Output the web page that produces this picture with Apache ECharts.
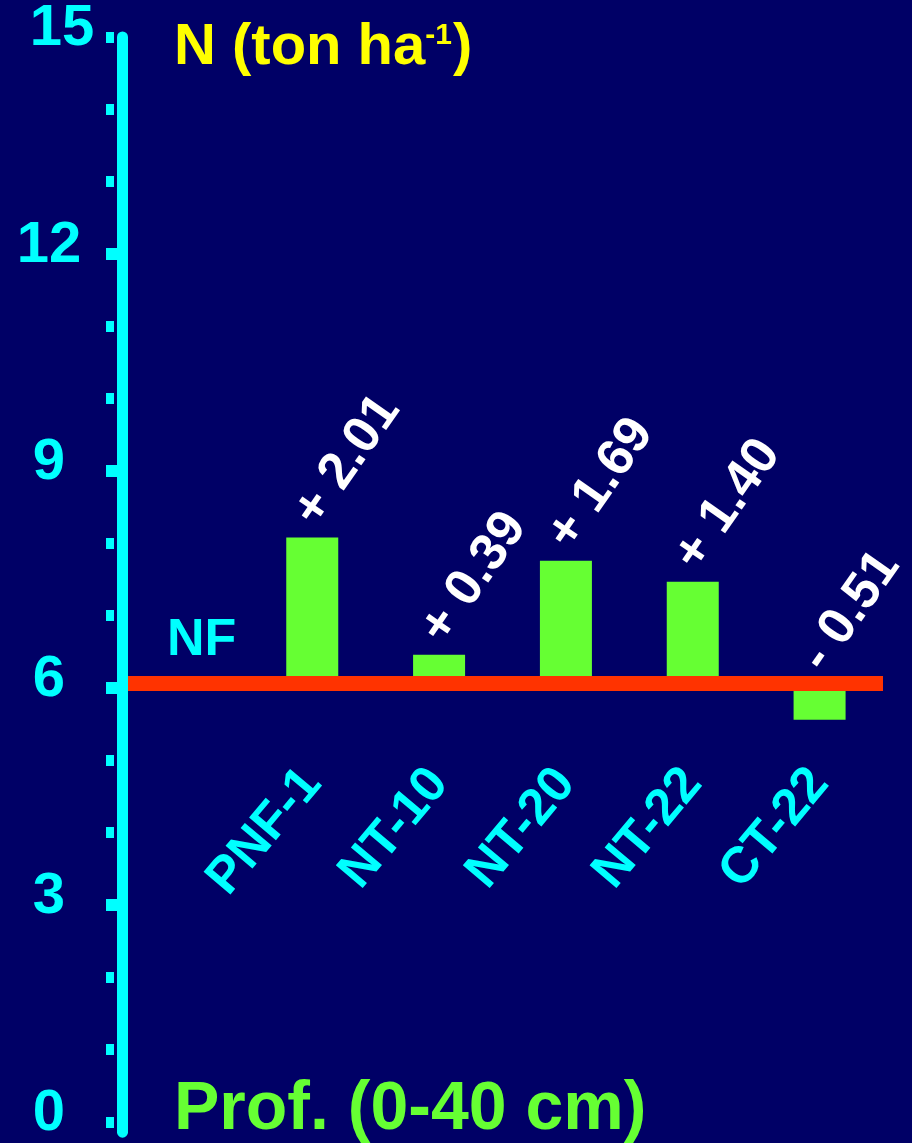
<!DOCTYPE html>
<html>
<head>
<meta charset="utf-8">
<script src="https://cdn.jsdelivr.net/npm/echarts@6/dist/echarts.min.js"></script>
<style>
  html, body { margin: 0; padding: 0; background: #000066; }
  #chart { width: 912px; height: 1143px; }
</style>
</head>
<body>
<div id="chart"></div>
<script>
// Treatments (first slot left empty: room for the NF reference label)
const categories = ['', 'PNF-1', 'NT-10', 'NT-20', 'NT-22', 'CT-22'];
// N stock of the native forest reference (ton/ha)
const nfLevel = 6.07;
// Change of N stock relative to NF (ton/ha)
const changes = [null, 2.01, 0.39, 1.69, 1.40, -0.51];
// Y axis labelled ticks and small tick dots
const yTickLabels = [0, 3, 6, 9, 12, 15];
const yDotTicks = [0, 1, 2, 3, 4, 5, 6, 7, 8, 9, 10, 11, 12, 13, 14, 15];

const FONT = "'Liberation Sans', Arial, sans-serif";
const CYAN = '#00ffff';

const baseData = changes.map(d => (d == null ? null : nfLevel));
const labelPoints = [];
changes.forEach((d, i) => {
  if (d == null) return;
  labelPoints.push({ value: [categories[i], nfLevel + Math.max(d, 0)], change: d });
});
const fmtChange = d => (d >= 0 ? '+ ' : '- ') + Math.abs(d).toFixed(2);

const chart = echarts.init(document.getElementById('chart'), null, { renderer: 'canvas' });
chart.setOption({
  backgroundColor: '#000066',
  animation: false,
  title: [
    {
      text: '{a|N (ton ha}{s|-1}{a|)}',
      left: 169,
      top: 14,
      textStyle: {
        rich: {
          a: { fontFamily: FONT, fontWeight: 'bold', fontSize: 58, color: '#ffff00' },
          s: { fontFamily: FONT, fontWeight: 'bold', fontSize: 30, color: '#ffff00', padding: [0, 1, 24, 0] }
        }
      }
    },
    {
      text: 'Prof. (0-40 cm)',
      left: 169,
      top: 1071,
      textStyle: { fontFamily: FONT, fontWeight: 'bold', fontSize: 68, color: '#66ff33' }
    }
  ],
  grid: { left: 122, width: 761, top: 33, bottom: 9 },
  xAxis: {
    type: 'category',
    data: categories,
    axisLine: { show: false },
    axisTick: { show: false },
    splitLine: { show: false },
    axisLabel: {
      interval: 0,
      rotate: 50,
      margin: -357,
      padding: [57, 0, 0, 0],
      color: CYAN,
      fontFamily: FONT,
      fontWeight: 'bold',
      fontSize: 51
    }
  },
  yAxis: [
    {
      type: 'value',
      position: 'left',
      min: -0.14,
      max: 15,
      z: 10,
      splitLine: { show: false },
      axisLine: { show: true, lineStyle: { color: CYAN, width: 11 } },
      axisTick: { show: true, customValues: [3, 6, 9, 12], length: 16, lineStyle: { color: CYAN, width: 12 } },
      axisLabel: {
        customValues: yTickLabels,
        align: 'center',
        margin: 73,
        padding: [0, 0, 16, 0],
        color: CYAN,
        fontFamily: FONT,
        fontWeight: 'bold',
        fontSize: 58,
        formatter: v => (v === 15 ? '{w|15}' : String(v)),
        rich: {
          w: { color: CYAN, fontFamily: FONT, fontWeight: 'bold', fontSize: 58, padding: [0, 0, 0, 26] }
        }
      }
    },
    {
      type: 'value',
      position: 'left',
      min: -0.14,
      max: 15,
      offset: 8,
      z: 10,
      splitLine: { show: false },
      axisLine: { show: false },
      axisLabel: { show: false },
      axisTick: { show: true, customValues: yDotTicks, length: 8, lineStyle: { color: CYAN, width: 11 } }
    }
  ],
  series: [
    {
      type: 'bar',
      stack: 'n',
      stackStrategy: 'all',
      data: baseData,
      barWidth: 52,
      silent: true,
      itemStyle: { color: 'rgba(0,0,0,0)' },
      markLine: {
        silent: true,
        symbol: 'none',
        z: 5,
        lineStyle: { color: '#ff3300', width: 15, type: 'solid' },
        label: {
          show: true,
          position: 'insideStartTop',
          formatter: 'NF',
          distance: [45, 16],
          color: CYAN,
          fontFamily: FONT,
          fontWeight: 'bold',
          fontSize: 52
        },
        emphasis: { disabled: true },
        data: [{ yAxis: nfLevel }]
      }
    },
    {
      type: 'bar',
      stack: 'n',
      stackStrategy: 'all',
      data: changes,
      barWidth: 52,
      itemStyle: { color: '#66ff33' }
    },
    {
      type: 'scatter',
      data: labelPoints,
      symbolSize: 1,
      itemStyle: { color: 'rgba(0,0,0,0)', opacity: 1 },
      z: 6,
      label: {
        show: true,
        position: 'inside',
        align: 'left',
        verticalAlign: 'middle',
        rotate: 55,
        offset: [10, -15.5],
        color: '#ffffff',
        opacity: 1,
        fontFamily: FONT,
        fontWeight: 'bold',
        fontSize: 52,
        formatter: p => fmtChange(p.data.change)
      }
    }
  ]
});
</script>
</body>
</html>
